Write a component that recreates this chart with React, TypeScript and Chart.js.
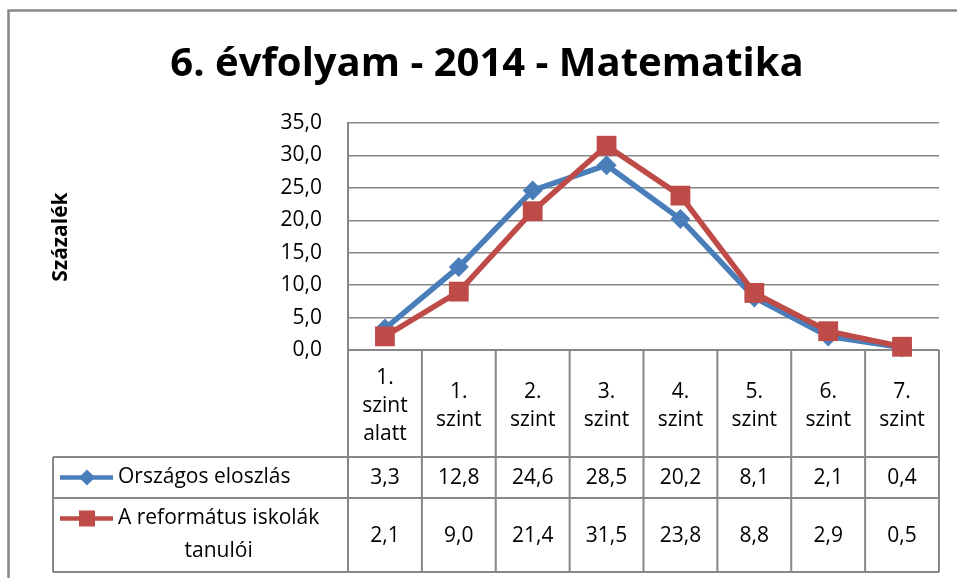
import React, { useEffect, useRef } from "react";
import { Chart, registerables } from "chart.js";

Chart.register(...registerables);

const TITLE = "6. évfolyam - 2014 - Matematika";
const Y_TITLE = "Százalék";
const categories: string[][] = [
  ["1.", "szint", "alatt"],
  ["1.", "szint"],
  ["2.", "szint"],
  ["3.", "szint"],
  ["4.", "szint"],
  ["5.", "szint"],
  ["6.", "szint"],
  ["7.", "szint"],
];
const seriesNames = ["Országos eloszlás", "A református iskolák tanulói"];
const orszagos = [3.3, 12.8, 24.6, 28.5, 20.2, 8.1, 2.1, 0.4];
const reformatus = [2.1, 9.0, 21.4, 31.5, 23.8, 8.8, 2.9, 0.5];
const Y_MIN = 0;
const Y_MAX = 35;
const Y_STEP = 5;

const BLUE = "#4A7EBB";
const RED = "#BE4B48";
const GRID = "#878787";
const FONT = "'Open Sans', 'DejaVu Sans', sans-serif";
const TEXT_SIZE = 21;

const fmt = (v: number) => v.toFixed(1).replace(".", ",");

function wrap(ctx: CanvasRenderingContext2D, text: string, maxW: number): string[] {
  const words = text.split(" ");
  const lines: string[] = [];
  let cur = "";
  for (const w of words) {
    const t = cur ? cur + " " + w : w;
    if (ctx.measureText(t).width > maxW && cur) {
      lines.push(cur);
      cur = w;
    } else cur = t;
  }
  if (cur) lines.push(cur);
  return lines;
}

function drawMarker(ctx: CanvasRenderingContext2D, style: string, x: number, y: number, r: number, color: string) {
  ctx.save();
  ctx.fillStyle = color;
  ctx.beginPath();
  if (style === "rectRot") {
    ctx.moveTo(x, y - r);
    ctx.lineTo(x + r, y);
    ctx.lineTo(x, y + r);
    ctx.lineTo(x - r, y);
    ctx.closePath();
  } else {
    ctx.rect(x - r, y - r, 2 * r, 2 * r);
  }
  ctx.fill();
  ctx.restore();
}

const decorPlugin = {
  id: "decor",
  beforeDraw(chart: any) {
    const ctx: CanvasRenderingContext2D = chart.ctx;
    ctx.save();
    ctx.fillStyle = "#ffffff";
    ctx.fillRect(0, 0, chart.width, chart.height);
    ctx.strokeStyle = GRID;
    ctx.lineWidth = 2.5;
    ctx.strokeRect(8.5, 10.5, chart.width + 20, chart.height + 20);
    ctx.restore();
  },
  beforeDatasetsDraw(chart: any) {
    const ctx: CanvasRenderingContext2D = chart.ctx;
    const area = chart.chartArea;
    const L = area.left;
    const R = area.right;
    const B = area.bottom;
    const n = categories.length;
    const colW = (R - L) / n;
    const hdrB = B + 107;
    const r1B = hdrB + 41;
    const r2B = r1B + 74;
    const legL = 53;

    ctx.save();
    // Title
    ctx.fillStyle = "#000";
    ctx.font = `bold 40px ${FONT}`;
    ctx.textAlign = "center";
    ctx.textBaseline = "alphabetic";
    ctx.fillText(TITLE, 487, 76);

    // Y title
    ctx.save();
    ctx.translate(67, 237);
    ctx.rotate(-Math.PI / 2);
    ctx.font = `bold 21px ${FONT}`;
    ctx.textAlign = "center";
    ctx.fillText(Y_TITLE, 0, 0);
    ctx.restore();

    // Table lines
    ctx.strokeStyle = GRID;
    ctx.lineWidth = 2;
    ctx.beginPath();
    ctx.moveTo(L, B);
    ctx.lineTo(R, B);
    for (const y of [hdrB, r1B, r2B]) {
      ctx.moveTo(legL, y);
      ctx.lineTo(R, y);
    }
    for (let i = 0; i <= n; i++) {
      const x = L + i * colW;
      ctx.moveTo(x, B);
      ctx.lineTo(x, r2B);
    }
    ctx.moveTo(legL, hdrB);
    ctx.lineTo(legL, r2B);
    ctx.stroke();

    // Header category labels
    ctx.font = `${TEXT_SIZE}px ${FONT}`;
    ctx.textAlign = "center";
    ctx.textBaseline = "middle";
    const lineH = 28;
    const hdrC = B + 56;
    const xs = chart.scales.x;
    categories.forEach((lines, i) => {
      const cx = xs.getPixelForValue(i);
      const y0 = hdrC - ((lines.length - 1) * lineH) / 2;
      lines.forEach((t, j) => ctx.fillText(t, cx, y0 + j * lineH));
    });

    // Rows
    const rows = [
      { top: hdrB, bot: r1B, data: chart.data.datasets[0] },
      { top: r1B, bot: r2B, data: chart.data.datasets[1] },
    ];
    const rowLineH = 33;
    rows.forEach((row) => {
      const ds: any = row.data;
      const cy = (row.top + row.bot) / 2;
      (ds.data as number[]).forEach((v, i) => {
        ctx.fillText(fmt(v), xs.getPixelForValue(i), cy + 1);
      });
      const lines = wrap(ctx, ds.label, 250);
      const blockW = Math.max(...lines.map((t) => ctx.measureText(t).width));
      const tx = 118;
      const y0 = cy - ((lines.length - 1) * rowLineH) / 2;
      lines.forEach((t, j) => ctx.fillText(t, tx + blockW / 2, y0 + j * rowLineH));
      // legend key
      const ky = y0;
      ctx.strokeStyle = ds.borderColor;
      ctx.lineWidth = 4.5;
      ctx.beginPath();
      ctx.moveTo(60, ky);
      ctx.lineTo(113, ky);
      ctx.stroke();
      if (ds.pointStyle === "rectRot") drawMarker(ctx, "rectRot", 87, ky, 8, ds.borderColor);
      else drawMarker(ctx, "rect", 87, ky, 8, ds.borderColor);
    });
    ctx.restore();
  },
};

export default function App() {
  const ref = useRef<HTMLCanvasElement | null>(null);
  useEffect(() => {
    if (!ref.current) return;
    const chart = new Chart(ref.current, {
      type: "line",
      data: {
        labels: categories,
        datasets: [
          {
            label: seriesNames[0],
            data: orszagos,
            borderColor: BLUE,
            backgroundColor: BLUE,
            borderWidth: 5.5,
            pointStyle: "rectRot",
            pointRadius: 10,
            pointBorderWidth: 0,
            pointBackgroundColor: BLUE,
            tension: 0,
            clip: false as any,
            order: 2,
          },
          {
            label: seriesNames[1],
            data: reformatus,
            borderColor: RED,
            backgroundColor: RED,
            borderWidth: 5.5,
            pointStyle: "rect",
            pointRadius: 14,
            pointBorderWidth: 0,
            pointBackgroundColor: RED,
            tension: 0,
            clip: false as any,
            order: 1,
          },
        ],
      },
      options: {
        responsive: false,
        animation: false,
        layout: { padding: { left: 0, right: 18, top: 123, bottom: 228 } },
        plugins: {
          legend: { display: false },
          title: { display: false },
          tooltip: { enabled: false },
        },
        scales: {
          x: {
            type: "category",
            offset: true,
            grid: { display: false, drawTicks: false },
            border: { display: false },
            ticks: { display: false },
            afterFit: (s: any) => {
              s.height = 0;
            },
          },
          y: {
            min: Y_MIN,
            max: Y_MAX,
            ticks: {
              stepSize: Y_STEP,
              padding: 26,
              color: "#000",
              font: { family: FONT, size: TEXT_SIZE },
              callback: (v: any) => fmt(Number(v)),
            },
            grid: { color: GRID, lineWidth: 1.5, drawTicks: false },
            border: { display: true, color: GRID, width: 2 },
            afterFit: (s: any) => {
              s.width = 348;
            },
          },
        },
      },
      plugins: [decorPlugin],
    });
    return () => chart.destroy();
  }, []);
  return (
    <div style={{ position: "absolute", left: 0, top: 0, width: 957, height: 578 }}>
      <canvas ref={ref} width={957} height={578} />
    </div>
  );
}
